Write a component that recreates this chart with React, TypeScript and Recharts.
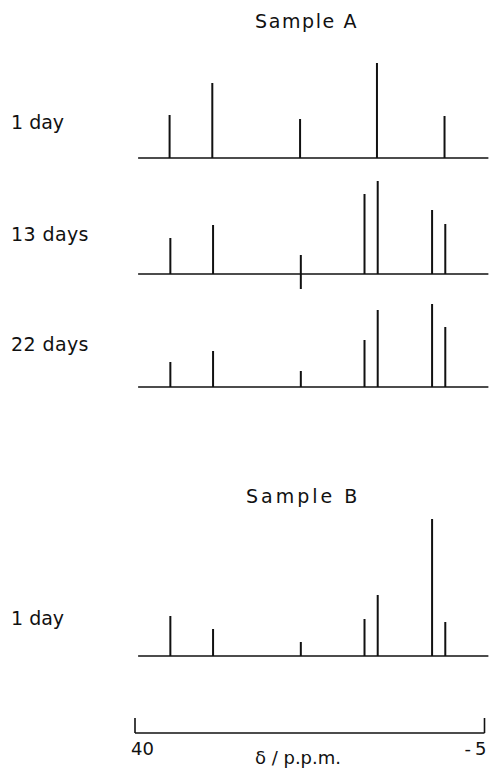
import React from 'react'
import { BarChart, Bar, XAxis, YAxis, ReferenceLine } from 'recharts'

// chemical shifts of the lines (ppm)
const shifts = [35.5, 30.0, 18.7, 10.5, 8.8, 1.8, 0.1]

// line intensities (arbitrary units), 0 = line absent
const sampleA1Day = [43, 75, 39, 0, 95, 0, 42]
const sampleA13Days = [36, 49, 19, 80, 93, 64, 50]
const sampleA13DaysBelow = [0, 0, -15, 0, 0, 0, 0]
const sampleA22Days = [25, 36, 16, 47, 77, 83, 60]
const sampleB1Day = [40, 27, 14, 37, 61, 137, 34]

const axisTicks = [40, -5]

const FONT = '"DejaVu Sans", sans-serif'
const INK = '#111'

function buildRows(values: number[], below?: number[]) {
    return shifts
        .map((shift, i) => ({ shift, range: [below ? below[i] : 0, values[i]] }))
        .filter((r) => r.range[0] !== r.range[1])
}

const PpmTick = (props: any) => {
    const { x, y, payload } = props
    const first = payload.value === 40
    return (
        <g>
            <line x1={x} y1={y} x2={x} y2={y - 15} stroke={INK} strokeWidth={1.6} />
            <text
                x={first ? x - 4 : x + 6}
                y={y + 22}
                textAnchor={first ? 'start' : 'end'}
                fontFamily={FONT}
                fontSize={18}
                fill={INK}
                letterSpacing={first ? 0 : 4}
            >
                {payload.value}
            </text>
        </g>
    )
}

interface SpectrumProps {
    top: number
    values: number[]
    below?: number[]
    yMax: number
    yMin: number
    showAxis?: boolean
}

function Spectrum({ top, values, below, yMax, yMin, showAxis = false }: SpectrumProps) {
    const plotHeight = yMax - yMin
    const axisHeight = showAxis ? 44 : 0
    return (
        <div style={{ position: 'absolute', left: 0, top }}>
            <BarChart
                width={490}
                height={plotHeight + axisHeight}
                data={buildRows(values, below)}
                margin={{ top: 0, right: 5.5, bottom: 0, left: 135 }}
            >
                <XAxis
                    dataKey="shift"
                    type="number"
                    domain={[-5, 40]}
                    reversed
                    allowDataOverflow
                    hide={!showAxis}
                    height={axisHeight}
                    ticks={axisTicks}
                    interval={0}
                    tickSize={0}
                    tickMargin={0}
                    tickLine={false}
                    axisLine={{ stroke: INK, strokeWidth: 1.6 }}
                    tick={<PpmTick />}
                />
                <YAxis hide type="number" domain={[yMin, yMax]} allowDataOverflow />
                <ReferenceLine
                    segment={[{ x: 39.6, y: 0 }, { x: -5.5, y: 0 }]}
                    ifOverflow="visible"
                    stroke={INK}
                    strokeWidth={1.6}
                />
                <Bar dataKey="range" fill={INK} barSize={2} isAnimationActive={false} />
            </BarChart>
        </div>
    )
}

export default function App() {
    const labelStyle = { fontFamily: FONT, fontSize: 19, fill: INK }
    return (
        <div style={{ position: 'absolute', left: 0, top: 0, width: 490, height: 777, background: '#fff' }}>
            <Spectrum top={58} values={sampleA1Day} yMax={100} yMin={-10} />
            <Spectrum top={173.7} values={sampleA13Days} below={sampleA13DaysBelow} yMax={100} yMin={-20} />
            <Spectrum top={297.3} values={sampleA22Days} yMax={90} yMin={-10} />
            <Spectrum top={511} values={sampleB1Day} yMax={145} yMin={-77} showAxis />
            <svg width={490} height={777} style={{ position: 'absolute', left: 0, top: 0, pointerEvents: 'none' }}>
                <text x={255} y={28} {...labelStyle} letterSpacing={1.6}>Sample A</text>
                <text x={11} y={129} {...labelStyle}>1 day</text>
                <text x={11} y={241} {...labelStyle} letterSpacing={0.4}>13 days</text>
                <text x={11} y={351} {...labelStyle} letterSpacing={0.4}>22 days</text>
                <text x={246} y={503} {...labelStyle} letterSpacing={3}>Sample B</text>
                <text x={11} y={625} {...labelStyle}>1 day</text>
                <text x={298} y={764} textAnchor="middle" fontFamily={FONT} fontSize={18} fill={INK}>
                    δ / p.p.m.
                </text>
            </svg>
        </div>
    )
}
